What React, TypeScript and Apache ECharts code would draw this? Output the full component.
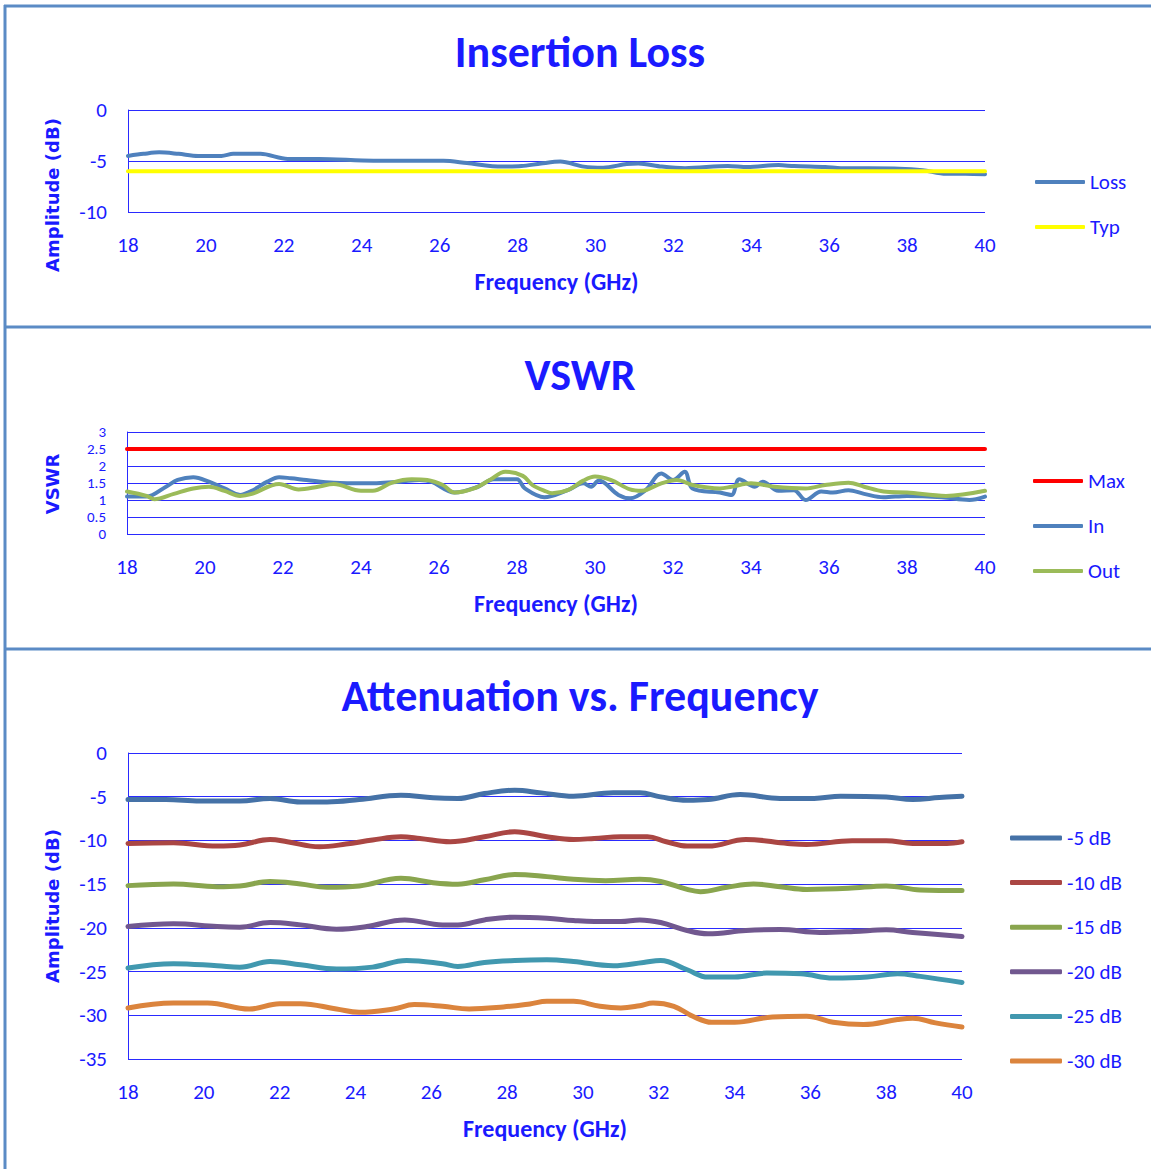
import React, { useEffect, useRef } from "react";
import * as echarts from "echarts";

// ---------- Data ----------
const freqTicks = [18, 20, 22, 24, 26, 28, 30, 32, 34, 36, 38, 40];

const lossData: [number, number][] = [
  [18, -4.5], [18.4, -4.3], [18.8, -4.15], [19.3, -4.3], [19.8, -4.5], [20.4, -4.5],
  [20.7, -4.3], [21.4, -4.3], [22.1, -4.8], [22.9, -4.8], [24.3, -4.97], [26.1, -4.97],
  [26.7, -5.2], [27.6, -5.55], [28.1, -5.5], [28.6, -5.25], [29.1, -5.06], [29.7, -5.55],
  [30.2, -5.65], [30.8, -5.3], [31.1, -5.25], [31.7, -5.55], [32.3, -5.7], [33.4, -5.5],
  [33.9, -5.6], [34.7, -5.4], [35.1, -5.5], [35.9, -5.6], [36.3, -5.7], [37.8, -5.75],
  [38.4, -5.9], [39.0, -6.25], [39.5, -6.25], [40, -6.3],
];
const typData: [number, number][] = [[18, -6], [40, -6]];

const maxData: [number, number][] = [[18, 2.5], [40, 2.5]];
const vswrIn: [number, number][] = [
  [18, 1.1], [18.5, 1.1], [19.0, 1.39], [19.3, 1.59], [19.7, 1.67], [20.1, 1.54], [20.5, 1.34],
  [20.9, 1.15], [21.2, 1.27], [21.6, 1.54], [21.9, 1.67], [22.2, 1.64], [22.6, 1.59], [23.3, 1.51],
  [24.1, 1.49], [25.0, 1.54], [25.5, 1.59], [25.8, 1.54], [26.4, 1.22], [27.0, 1.39], [27.4, 1.61],
  [28.0, 1.61], [28.2, 1.34], [28.7, 1.08], [29.3, 1.29], [29.7, 1.49], [29.9, 1.39], [30.1, 1.57],
  [30.6, 1.15], [30.9, 1.05], [31.3, 1.29], [31.7, 1.78], [32.0, 1.59], [32.3, 1.83], [32.5, 1.34],
  [33.2, 1.22], [33.5, 1.15], [33.7, 1.61], [34.1, 1.39], [34.3, 1.54], [34.7, 1.27], [35.1, 1.29],
  [35.4, 1.0], [35.8, 1.25], [36.1, 1.22], [36.5, 1.29], [36.9, 1.18], [37.4, 1.08], [38.0, 1.12],
  [38.9, 1.08], [39.6, 1.0], [40, 1.1],
];
const vswrOut: [number, number][] = [
  [18, 1.25], [18.5, 1.12], [18.7, 1.02], [19.2, 1.18], [19.7, 1.34], [20.1, 1.39], [20.5, 1.27],
  [20.9, 1.12], [21.2, 1.18], [21.9, 1.47], [22.4, 1.31], [22.9, 1.39], [23.3, 1.47], [24.0, 1.27],
  [24.3, 1.27], [24.8, 1.51], [25.3, 1.61], [25.7, 1.59], [26.1, 1.44], [26.4, 1.22], [26.9, 1.34],
  [27.3, 1.59], [27.7, 1.83], [28.15, 1.71], [28.4, 1.44], [28.75, 1.25], [28.9, 1.2], [29.3, 1.29],
  [29.7, 1.57], [30.0, 1.69], [30.4, 1.59], [30.9, 1.31], [31.2, 1.27], [31.7, 1.49], [32.1, 1.59],
  [32.5, 1.44], [33.2, 1.34], [33.5, 1.39], [34.0, 1.49], [34.6, 1.39], [35.4, 1.34], [35.9, 1.44],
  [36.5, 1.51], [36.9, 1.39], [37.4, 1.25], [38.0, 1.22], [39.0, 1.12], [40, 1.27],
];

const att5: [number, number][] = [
  [18, -5.32], [19, -5.32], [19.9, -5.5], [20.95, -5.5], [21.75, -5.2], [22.55, -5.6], [23.25, -5.6],
  [24.1, -5.32], [25.2, -4.83], [26.05, -5.13], [26.7, -5.2], [27.4, -4.64], [28.2, -4.26], [28.9, -4.56],
  [29.75, -4.94], [30.8, -4.56], [31.5, -4.56], [32.05, -5.02], [32.75, -5.4], [33.3, -5.32], [34.15, -4.75],
  [35.2, -5.2], [36.1, -5.2], [36.8, -4.94], [38.0, -5.02], [38.7, -5.32], [39.4, -5.1], [40, -4.94],
];
const att10: [number, number][] = [
  [18, -10.34], [19.2, -10.27], [20.35, -10.65], [20.95, -10.53], [21.75, -9.9], [22.2, -10.15],
  [23.05, -10.72], [23.75, -10.42], [24.45, -9.96], [25.2, -9.58], [25.7, -9.77], [26.5, -10.15],
  [27.4, -9.58], [28.2, -9.0], [29.05, -9.58], [29.75, -9.89], [30.3, -9.77], [31.0, -9.58],
  [31.7, -9.58], [32.2, -10.15], [32.75, -10.65], [33.3, -10.65], [34.3, -9.89], [35.4, -10.34],
  [35.9, -10.46], [37.1, -10.04], [38.0, -10.04], [38.7, -10.34], [39.6, -10.34], [40, -10.15],
];
const att15: [number, number][] = [
  [18, -15.17], [19.2, -14.98], [20.35, -15.29], [20.95, -15.2], [21.75, -14.7], [22.55, -14.98],
  [23.25, -15.36], [24.1, -15.2], [25.2, -14.33], [26.05, -14.83], [26.7, -15.0], [27.4, -14.5],
  [28.2, -13.9], [29.05, -14.14], [29.75, -14.45], [30.6, -14.6], [31.5, -14.45], [32.05, -14.7],
  [32.75, -15.6], [33.1, -15.86], [33.8, -15.36], [34.5, -14.98], [35.2, -15.29], [35.9, -15.6],
  [37.0, -15.48], [38.0, -15.2], [38.9, -15.67], [40, -15.74],
];
const att20: [number, number][] = [
  [18, -19.85], [19.2, -19.54], [20.35, -19.85], [20.95, -19.92], [21.75, -19.39], [22.55, -19.66],
  [23.5, -20.15], [24.3, -19.85], [25.3, -19.09], [26.3, -19.66], [26.7, -19.66], [27.4, -19.09],
  [28.2, -18.78], [29.05, -18.9], [29.75, -19.16], [30.3, -19.28], [31.0, -19.28], [31.5, -19.09],
  [32.05, -19.39], [32.75, -20.3], [33.3, -20.68], [34.3, -20.3], [35.2, -20.2], [36.25, -20.53],
  [37.15, -20.42], [38.0, -20.23], [38.7, -20.53], [40, -20.99],
];
const att25: [number, number][] = [
  [18, -24.6], [19.2, -24.1], [20.35, -24.33], [20.95, -24.5], [21.75, -23.84], [22.55, -24.22],
  [23.5, -24.71], [24.45, -24.49], [25.35, -23.73], [26.3, -24.1], [26.7, -24.41], [27.4, -23.95],
  [28.2, -23.73], [29.05, -23.65], [29.75, -23.84], [30.8, -24.33], [31.6, -23.95], [32.05, -23.73],
  [32.75, -24.79], [33.3, -25.63], [34.0, -25.63], [34.85, -25.17], [35.75, -25.25], [36.6, -25.74],
  [37.5, -25.63], [38.3, -25.25], [38.9, -25.55], [40, -26.24],
];
const att30: [number, number][] = [
  [18, -29.16], [19.2, -28.59], [20.1, -28.59], [21.2, -29.28], [22.0, -28.67], [22.55, -28.67],
  [23.5, -29.28], [24.1, -29.66], [25.0, -29.28], [25.55, -28.78], [26.3, -28.97], [27.0, -29.28],
  [27.9, -29.05], [28.6, -28.7], [29.05, -28.4], [29.75, -28.4], [30.45, -28.97], [31.0, -29.16],
  [31.5, -28.9], [31.85, -28.59], [32.4, -28.97], [32.9, -30.11], [33.4, -30.8], [34.0, -30.8],
  [35.0, -30.19], [35.9, -30.11], [36.6, -30.8], [37.4, -31.06], [38.3, -30.49], [38.7, -30.34],
  [39.3, -30.87], [40, -31.33],
];

const attNames = ["-5 dB", "-10 dB", "-15 dB", "-20 dB", "-25 dB", "-30 dB"];
const attSets = [att5, att10, att15, att20, att25, att30];
const attColors = ["#4572a7", "#aa4643", "#89a54e", "#71588f", "#4198af", "#db843d"];

// ---------- Styles ----------
const BLUE = "#1a1aff";
const GRID_BLUE = "#2a2aff";
const BORDER = "#5b8bc5";
const FONT = "Carlito, Lato, sans-serif";
const YFONT = "'DejaVu Sans', sans-serif";

function xAxisFor(gridIndex: number) {
  return {
    type: "value",
    gridIndex,
    min: 18,
    max: 40,
    interval: 2,
    axisLine: { show: false },
    axisTick: { show: false },
    splitLine: { show: false },
    axisLabel: {
      color: BLUE,
      fontSize: 21,
      fontFamily: FONT,
      margin: 22,
      formatter: (v: number) => (freqTicks.includes(v) ? String(v) : ""),
    },
    name: "Frequency (GHz)",
    nameLocation: "middle",
    nameGap: 57,
    nameTextStyle: { color: BLUE, fontSize: 24, fontWeight: "bold", fontFamily: FONT },
  };
}

function yAxisFor(
  gridIndex: number,
  min: number,
  max: number,
  interval: number,
  fontSize = 21,
  lineHeight?: number
) {
  return {
    type: "value",
    gridIndex,
    min,
    max,
    interval,
    axisLine: { show: true, lineStyle: { color: GRID_BLUE, width: 1 } },
    axisTick: { show: false },
    splitLine: { show: true, lineStyle: { color: GRID_BLUE, width: 1 } },
    axisLabel: {
      color: BLUE,
      fontSize,
      lineHeight,
      fontFamily: FONT,
      margin: 21,
      interval: 0,
      hideOverlap: false,
      showMinLabel: true,
      showMaxLabel: true,
    },
  };
}

function lineSeries(
  name: string,
  data: [number, number][],
  color: string,
  width: number,
  idx: number,
  smooth: number | boolean = 0.35
) {
  return {
    name,
    type: "line",
    xAxisIndex: idx,
    yAxisIndex: idx,
    data,
    smooth,
    symbol: "none",
    showSymbol: false,
    lineStyle: { color, width, cap: "round", join: "round" },
    itemStyle: { color },
  };
}

const legendBase = {
  orient: "vertical",
  itemWidth: 50,
  itemHeight: 4,
  icon: "roundRect",
  itemGap: 21,
  textStyle: { color: BLUE, fontSize: 21, lineHeight: 24, fontFamily: FONT },
};

export default function App() {
  const ref = useRef<HTMLDivElement>(null);

  useEffect(() => {
    if (!ref.current) return;
    const chart = echarts.init(ref.current, null, { renderer: "svg" });

    const titleStyle = { color: BLUE, fontSize: 44, fontWeight: "bold", fontFamily: FONT };

    const option: any = {
      animation: false,
      backgroundColor: "#ffffff",
      title: [
        { text: "Insertion Loss", left: 575, top: 25, textAlign: "center", textStyle: titleStyle },
        { text: "VSWR", left: 575, top: 348, textAlign: "center", textStyle: titleStyle },
        { text: "Attenuation vs. Frequency", left: 575, top: 669, textAlign: "center", textStyle: titleStyle },
      ],
      grid: [
        { left: 128, top: 110, width: 857, height: 102 },
        { left: 127, top: 432, width: 858, height: 102 },
        { left: 128, top: 753, width: 834, height: 306 },
      ],
      xAxis: [xAxisFor(0), xAxisFor(1), xAxisFor(2)],
      yAxis: [
        yAxisFor(0, -10, 0, 5),
        yAxisFor(1, 0, 3, 0.5, 15, 15),
        yAxisFor(2, -35, 0, 5),
      ],
      legend: [
        { ...legendBase, data: ["Loss", "Typ"], left: 1030, top: 165 },
        { ...legendBase, data: ["Max", "In", "Out"], left: 1028, top: 464 },
        {
          ...legendBase,
          data: attNames,
          left: 1005,
          top: 821,
          itemWidth: 52,
          itemHeight: 5,
          itemGap: 20.6,
        },
      ],
      series: [
        lineSeries("Loss", lossData, "#4f81bd", 4, 0, 0.3),
        lineSeries("Typ", typData, "#ffff00", 4, 0, false),
        lineSeries("Max", maxData, "#ff0000", 4, 1, false),
        lineSeries("In", vswrIn, "#4f81bd", 4, 1, 0.35),
        lineSeries("Out", vswrOut, "#9bbb59", 4, 1, 0.35),
        ...attSets.map((d, i) => lineSeries(attNames[i], d, attColors[i], 5, 2, 0.4)),
      ],
      graphic: [
        { type: "line", shape: { x1: 4, y1: 6, x2: 1151, y2: 6 }, style: { stroke: BORDER, lineWidth: 3 } },
        { type: "line", shape: { x1: 5, y1: 5, x2: 5, y2: 1169 }, style: { stroke: BORDER, lineWidth: 3 } },
        { type: "line", shape: { x1: 4, y1: 327, x2: 1151, y2: 327 }, style: { stroke: BORDER, lineWidth: 3 } },
        { type: "line", shape: { x1: 4, y1: 649, x2: 1151, y2: 649 }, style: { stroke: BORDER, lineWidth: 3 } },
        {
          type: "text",
          x: 52,
          y: 195,
          rotation: Math.PI / 2,
          style: {
            text: "Amplitude (dB)",
            fill: BLUE,
            font: `bold 18px ${YFONT}`,
            align: "center",
            verticalAlign: "middle",
          },
        },
        {
          type: "text",
          x: 52,
          y: 484,
          rotation: Math.PI / 2,
          style: {
            text: "VSWR",
            fill: BLUE,
            font: `bold 18px ${YFONT}`,
            align: "center",
            verticalAlign: "middle",
          },
        },
        {
          type: "text",
          x: 52,
          y: 906,
          rotation: Math.PI / 2,
          style: {
            text: "Amplitude (dB)",
            fill: BLUE,
            font: `bold 18px ${YFONT}`,
            align: "center",
            verticalAlign: "middle",
          },
        },
      ],
    };

    chart.setOption(option);
    return () => chart.dispose();
  }, []);

  return (
    <div
      ref={ref}
      style={{ position: "absolute", left: 0, top: 0, width: 1151, height: 1169, background: "#fff" }}
    />
  );
}
